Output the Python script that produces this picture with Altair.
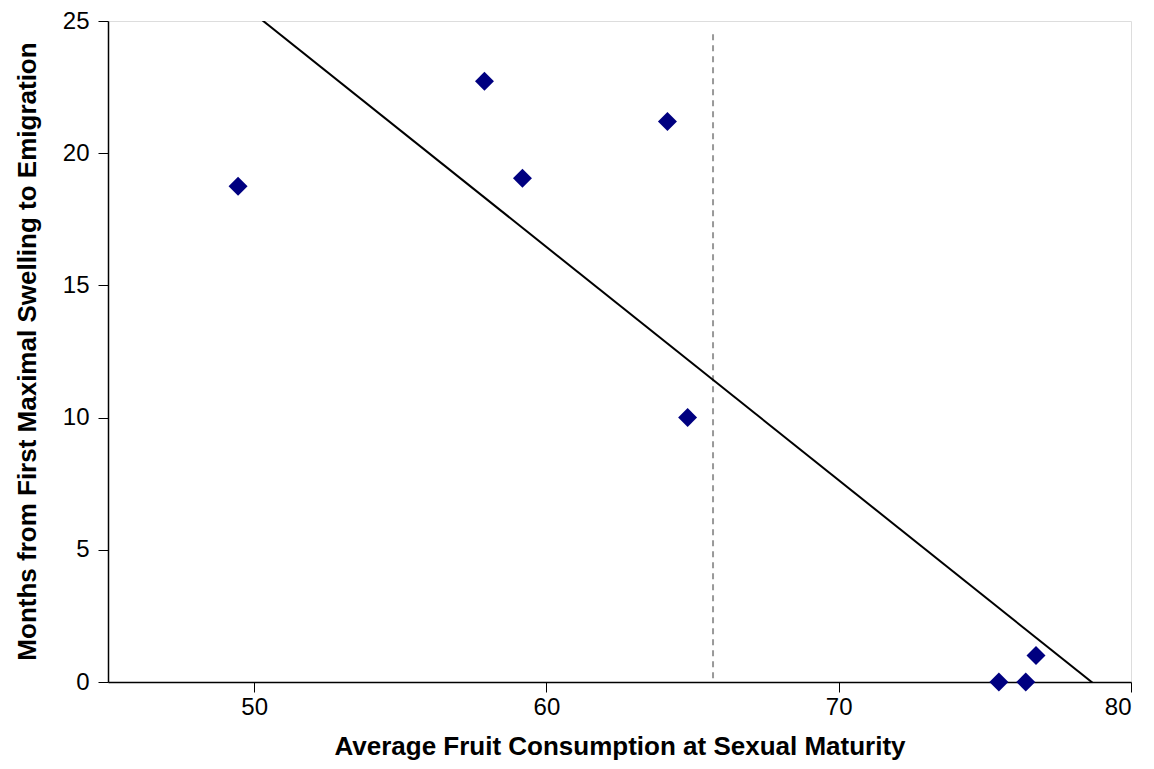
import altair as alt
import pandas as pd

# Average fruit consumption at sexual maturity vs. months to emigration
fruit_consumption = [49.45, 57.88, 59.18, 64.14, 64.83, 75.48, 76.40, 76.75]
months_to_emigration = [18.75, 22.72, 19.05, 21.2, 10.0, 0.0, 0.0, 1.0]

# Reference line position (dashed vertical)
ref_x = [65.7]
ref_top = [24.5]

df = pd.DataFrame({"x": fruit_consumption, "y": months_to_emigration})
ref = pd.DataFrame({"x": ref_x, "y": ref_top, "y0": [0]})

x_scale = alt.Scale(domain=[45, 80], nice=False, zero=False)
y_scale = alt.Scale(domain=[0, 25], nice=False)

x_axis = alt.Axis(
    title="Average Fruit Consumption at Sexual Maturity",
    values=[50, 60, 70, 80],
    grid=False,
    labelFontSize=24,
    labelColor="#000000",
    labelPadding=3,
    tickSize=10,
    tickColor="#000000",
    domainColor="#000000",
    domainWidth=1.5,
    titleFontSize=26,
    titleFontWeight="bold",
    titleColor="#000000",
    titleBaseline="alphabetic",
    titleY=72,
)

y_axis = alt.Axis(
    title="Months from First Maximal Swelling to Emigration",
    values=[0, 5, 10, 15, 20, 25],
    grid=False,
    labelFontSize=24,
    labelColor="#000000",
    labelPadding=9,
    tickSize=10,
    tickColor="#000000",
    domainColor="#000000",
    domainWidth=1.5,
    titleFontSize=26,
    titleFontWeight="bold",
    titleColor="#000000",
    titleAngle=270,
    titleBaseline="middle",
    titleX=-81,
    titleY=330,
)

base = alt.Chart(df)

points = base.mark_point(
    shape="diamond", filled=True, color="#000080", size=360, opacity=1
).encode(
    x=alt.X("x:Q", scale=x_scale, axis=x_axis),
    y=alt.Y("y:Q", scale=y_scale, axis=y_axis),
)

trend = base.transform_regression(
    "x", "y", extent=[45, 80]
).mark_line(color="#000000", strokeWidth=2, clip=True).encode(
    x=alt.X("x:Q", scale=x_scale),
    y=alt.Y("y:Q", scale=y_scale),
)

rule = alt.Chart(ref).mark_rule(
    color="#999999", strokeWidth=2, strokeDash=[6, 5]
).encode(
    x=alt.X("x:Q", scale=x_scale),
    y=alt.Y("y:Q", scale=y_scale),
    y2="y0:Q",
)

chart = alt.layer(rule, trend, points).properties(
    width=1023,
    height=661,
    autosize=alt.AutoSizeParams(type="none"),
    padding={"left": 108, "top": 21, "right": 23, "bottom": 87},
).configure_view(
    stroke="#888888", strokeWidth=2
).configure(
    font="Liberation Sans", background="#ffffff"
)

chart.save("out.html", embed_options={"renderer": "svg", "actions": False})
